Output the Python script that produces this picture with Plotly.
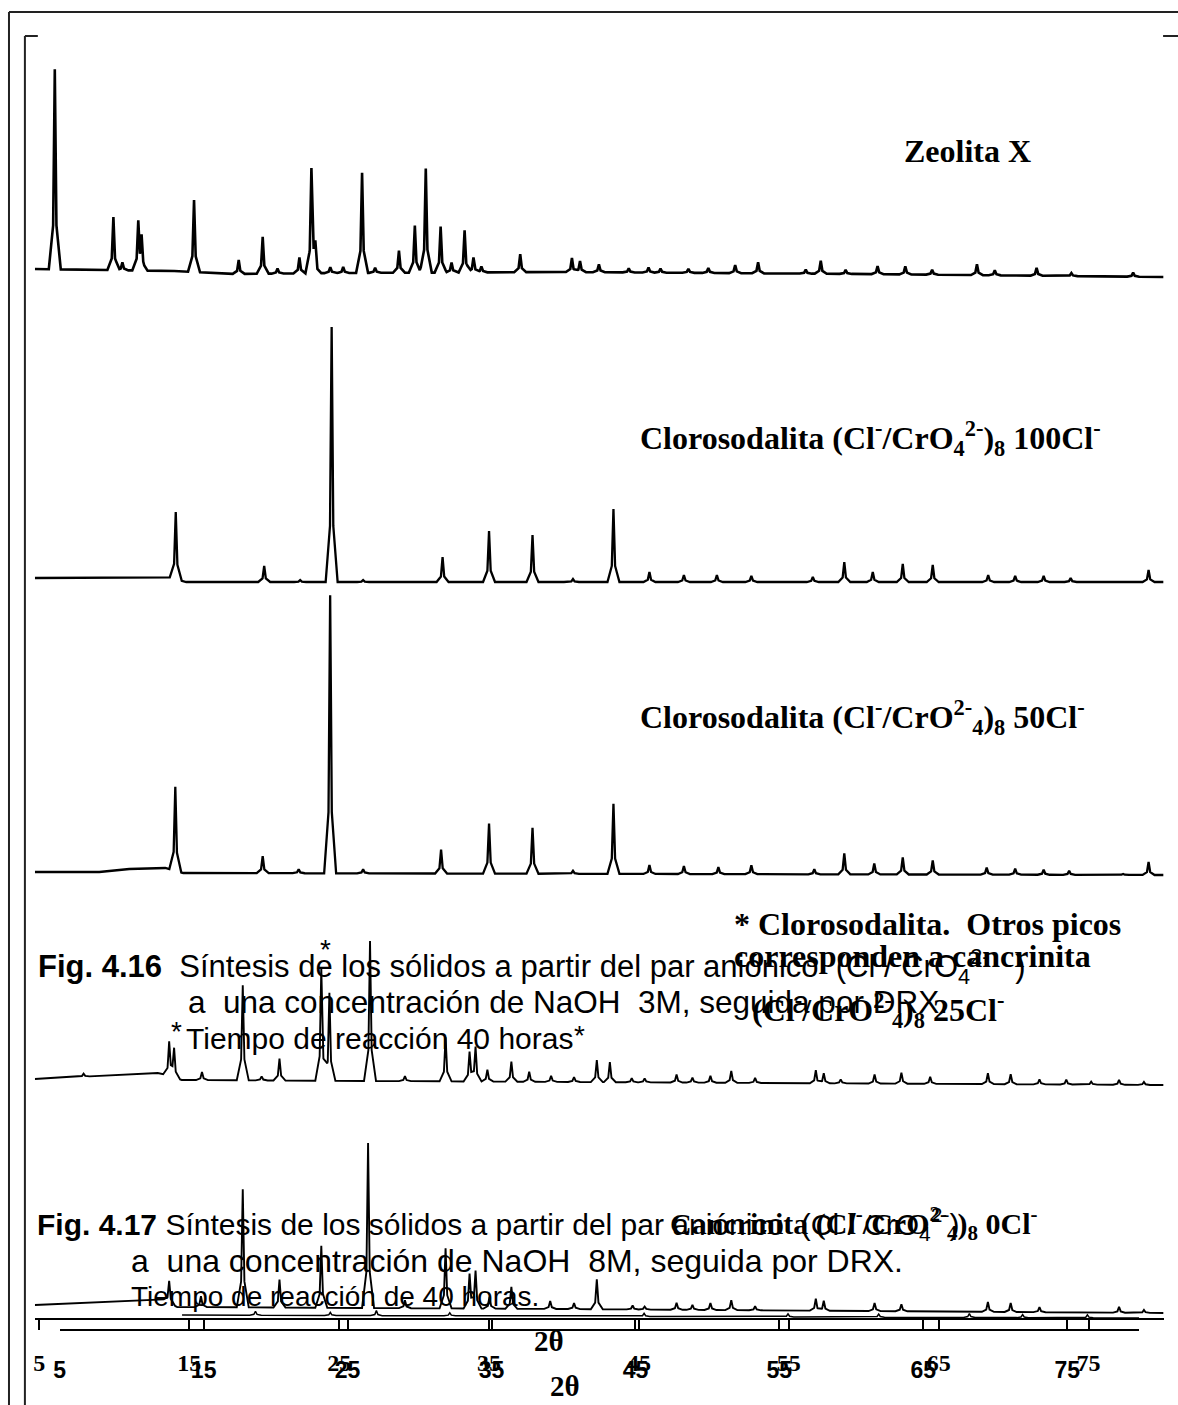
import numpy as np
import plotly.graph_objects as go

W, H = 1178, 1405

# ---------------------------------------------------------------
# Diffraction patterns (2θ in degrees, intensity in arbitrary units,
# each pattern already carries its stacking offset in the background)
# ---------------------------------------------------------------

# Zeolita X
zx_pos = [6.03, 9.94, 10.54, 11.60, 11.82, 15.32, 18.30, 19.90, 20.89, 22.35, 23.15, 23.41,
          24.41, 25.27, 26.53, 27.40, 28.99, 30.05, 30.78, 31.77, 32.50, 33.37, 33.96, 34.49,
          37.08, 40.53, 41.07, 42.33, 44.32, 45.64, 46.44, 48.30, 49.63, 51.42, 52.95, 56.13,
          57.13, 58.79, 60.92, 62.77, 64.56, 67.55, 68.74, 71.53, 73.85, 77.97]
zx_int = [200, 53, 8, 46, 30, 72, 14, 37, 5, 16, 103, 22,
          6, 6, 100, 5, 22, 47, 104, 46, 10, 42, 15, 6,
          18, 14, 11, 8, 4, 5, 4, 4, 5, 8, 11, 4,
          13, 4, 8, 8, 5, 11, 5, 8, 3, 4]
zx_bg_pos = [4.7, 14, 18, 25, 40, 60, 80]
zx_bg = [1136, 1134, 1131, 1132, 1133, 1131, 1128]

# Clorosodalita 100Cl-
s100_pos = [14.10, 20.00, 22.40, 24.50, 26.60, 31.90, 35.00, 37.90, 40.60, 43.30, 45.70,
            48.00, 50.20, 52.50, 56.60, 58.70, 60.60, 62.60, 64.60, 68.30, 70.10, 72.00,
            73.80, 79.00]
s100_int = [67, 16, 2, 255, 2, 25, 51, 47, 3, 73, 10,
            7, 7, 6, 5, 20, 10, 18, 17, 7, 6, 6,
            4, 12]
s100_bg_pos = [4.7, 13.6, 14.8, 40, 80]
s100_bg = [827, 828, 823, 823, 823]

# Clorosodalita 50Cl-
s50_pos = [14.07, 19.90, 22.30, 24.40, 26.60, 31.80, 35.00, 37.90, 40.60, 43.30, 45.70,
           48.00, 50.30, 52.50, 56.70, 58.70, 60.70, 62.60, 64.60, 68.20, 70.10, 72.00,
           73.70, 77.30, 79.00]
s50_int = [84, 17, 4, 278, 4, 24, 50, 46, 3, 70, 9,
           8, 7, 9, 5, 21, 11, 17, 14, 7, 6, 5,
           4, 1, 13]
s50_bg_pos = [4.7, 9, 11, 13.4, 14.6, 80]
s50_bg = [533, 533, 536, 537, 532, 530]

# Clorosodalita 25Cl- (con cancrinita), NaOH 3M
s25_pos = [7.95, 13.66, 13.99, 15.85, 18.57, 19.83, 21.02, 23.81, 24.35, 27.06, 29.39,
           32.10, 33.70, 34.10, 34.89, 36.49, 37.68, 39.14, 40.67, 42.19, 43.06, 44.52,
           45.38, 47.51, 48.57, 49.77, 51.16, 52.75, 56.80, 57.33, 58.46, 60.72, 62.51,
           64.43, 68.28, 69.80, 71.72, 73.51, 75.17, 77.03, 78.69]
s25_int = [3, 33, 28, 8, 95, 4, 22, 112, 88, 140, 5,
           44, 30, 35, 12, 20, 10, 6, 5, 22, 20, 4,
           4, 8, 5, 7, 12, 5, 13, 10, 4, 9, 11,
           7, 11, 10, 5, 5, 3, 5, 3]
s25_bg_pos = [4.7, 12.9, 13.5, 14.5, 80]
s25_bg = [326, 332, 330, 325, 320]

# Cancrinita 0Cl-, NaOH 8M
c0_pos = [13.66, 15.78, 18.57, 21.02, 23.81, 26.93, 29.39, 32.10, 33.70, 34.10, 35.03,
          36.49, 39.08, 40.67, 42.19, 44.58, 45.38, 47.51, 48.57, 49.77, 51.16, 52.75,
          56.80, 57.33, 60.72, 62.51, 68.28, 69.80, 71.72, 77.03, 78.69]
c0_int = [22, 11, 118, 28, 62, 165, 8, 60, 35, 38, 12,
          22, 8, 6, 30, 4, 3, 7, 5, 7, 10, 4,
          12, 10, 8, 7, 10, 9, 5, 6, 3]
c0_bg_pos = [4.7, 13.3, 14.2, 40, 80]
c0_bg = [100, 105, 98, 96, 92]

# Cancrinita, registro superpuesto (escala 2θ inferior)
c0b_pos = [18.6, 23.8, 27.0, 32.1, 45.6, 55.6, 61.9, 68.2, 71.9, 76.4]
c0b_int = [4, 3, 5, 3, 3, 3, 3, 4, 3, 3]
c0b_bg_pos = [13.5, 80]
c0b_bg = [90, 87]

two_theta_ticks = [5, 15, 25, 35, 45, 55, 65, 75]
tick_text = [str(t) for t in two_theta_ticks]


def pattern(pos, inten, bg_pos, bg_val, lo=4.7, hi=80.0, foot=0.4, waist=0.11):
    """Piecewise-linear diffraction trace: each listed reflection is drawn as a
    narrow spike (foot / waist / apex vertices) standing on the background."""
    xs = {lo, hi}
    xs.update(bg_pos)
    for c in pos:
        xs.update([c - foot, c - waist, c, c + waist, c + foot])
    xs = np.array(sorted(x for x in xs if lo <= x <= hi))
    ys = np.interp(xs, bg_pos, bg_val)
    for c, h in zip(pos, inten):
        ys = ys + np.interp(xs, [c - foot, c - waist, c, c + waist, c + foot],
                            [0, 0.22 * h, h, 0.22 * h, 0], left=0, right=0)
    return xs, ys


fig = go.Figure()

series = [
    (zx_pos, zx_int, zx_bg_pos, zx_bg, 2.6, "x", 4.7),
    (s100_pos, s100_int, s100_bg_pos, s100_bg, 2.3, "x", 4.7),
    (s50_pos, s50_int, s50_bg_pos, s50_bg, 2.3, "x", 4.7),
    (s25_pos, s25_int, s25_bg_pos, s25_bg, 1.9, "x", 4.7),
    (c0_pos, c0_int, c0_bg_pos, c0_bg, 1.9, "x", 4.7),
    (c0b_pos, c0b_int, c0b_bg_pos, c0b_bg, 1.5, "x2", 13.5),
]
for pos, inten, bp, bv, lw, xa, lo in series:
    xs, ys = pattern(pos, inten, bp, bv, lo=lo)
    fig.add_trace(go.Scatter(x=xs, y=ys, mode="lines", xaxis=xa, yaxis="y",
                             line=dict(color="black", width=lw), hoverinfo="skip",
                             showlegend=False))


def px(x, y):
    return x / W, 1 - y / H


SERIF = "Liberation Serif"
SANS = "Liberation Sans"
NB = "\u00a0"

annotations = []


def label(x, y, text, family, size, anchor="left"):
    ax, ay = px(x, y)
    annotations.append(dict(x=ax, y=ay, xref="paper", yref="paper", text=text,
                            showarrow=False, xanchor=anchor, yanchor="middle",
                            font=dict(family=family, size=size, color="black")))


# sample labels
label(901, 151, "<b>Zeolita X</b>", SERIF, 32)
label(635, 438, "<b>Clorosodalita (Cl<sup>-</sup>/CrO<sub>4</sub><sup>2-</sup>)<sub>8</sub> 100Cl<sup>-</sup></b>", SERIF, 32)
label(635, 717, "<b>Clorosodalita (Cl<sup>-</sup>/CrO<sup>2-</sup><sub>4</sub>)<sub>8</sub> 50Cl<sup>-</sup></b>", SERIF, 32)
label(730, 924, "<b>* Clorosodalita." + NB * 2 + "Otros picos</b>", SERIF, 32)
label(730, 956, "<b>corresponden a cancrinita</b>", SERIF, 32)
label(748, 1010, "<b>(Cl<sup>-</sup>/CrO<sup>2-</sup><sub>4</sub>)<sub>8</sub> 25Cl<sup>-</sup></b>", SERIF, 32)
label(665, 1223, "<b>Cancrinita (Cl<sup>-</sup>/CrO<sup>2-</sup><sub>4</sub>)<sub>8</sub> 0Cl<sup>-</sup></b>", SERIF, 30)

# figure captions
label(30, 966, "<b>Fig. 4.16</b>" + NB * 2 + "Síntesis de los sólidos a partir del par aniónico" + NB * 2 +
      "(Cl" + NB + "/" + NB + "CrO<sub>4</sub><sup>2-</sup>" + NB * 3 + ")", SANS, 31)
label(181, 1002, "a" + NB * 2 + "una concentración de NaOH" + NB * 2 + "3M, seguida por DRX.", SANS, 31.5)
label(179, 1038, "Tiempo de reacción 40 horas", SANS, 30)
label(29, 1224, "<b>Fig. 4.17</b> Síntesis de los sólidos a partir del par aniónico" + NB * 2 +
      "(Cl" + NB + "/" + NB + "CrO<sub>4</sub><sup>2-</sup>)", SANS, 30)
label(124, 1261, "a" + NB * 2 + "una concentración de NaOH" + NB * 2 + "8M, seguida por DRX.", SANS, 32)
label(124, 1296, "Tiempo de reacción de 40 horas.", SANS, 28)

# sodalite markers
label(171, 1031, "*", SANS, 28, "center")
label(321, 949, "*", SANS, 28, "center")
label(576, 1035, "*", SANS, 28, "center")

# axis titles
label(546, 1341, "<b>2θ</b>", SERIF, 29, "center")
label(562, 1386, "<b>2θ</b>", SERIF, 29, "center")

# frame lines
shapes = []


def seg(x0, y0, x1, y1, w=2, c="#222"):
    a0, b0 = px(x0, y0)
    a1, b1 = px(x1, y1)
    shapes.append(dict(type="line", xref="paper", yref="paper", x0=a0, y0=b0, x1=a1, y1=b1,
                       line=dict(color=c, width=w)))


seg(3, 12, 3, H + 5)
seg(3, 12, W + 5, 12)
seg(19, 36, 19, H + 5)
seg(19, 36, 32, 36)
seg(1163, 36, W + 5, 36)

axis_common = dict(anchor="free", showline=True, linecolor="black",
                   linewidth=1.5, tickcolor="black", tickwidth=1.5, ticklen=10,
                   tickvals=two_theta_ticks, ticktext=tick_text, showgrid=False,
                   zeroline=False, fixedrange=True)

# upper 2θ scale: 5° at x=33.5 px, 15.07 px per degree
fig.update_layout(
    width=W, height=H,
    margin=dict(l=0, r=0, t=0, b=0),
    paper_bgcolor="white", plot_bgcolor="rgba(0,0,0,0)",
    showlegend=False,
    xaxis=dict(domain=[29 / W, 1163.5 / W], range=[4.7, 80], position=1 - 1319 / H,
               ticks="outside",
               tickfont=dict(family=SERIF, size=24, color="black", weight="bold"),
               ticklabelstandoff=12, **axis_common),
    xaxis2=dict(domain=[54 / W, 1139 / W], range=[5, 80], position=1 - 1330 / H,
                ticks="inside",
                tickfont=dict(family=SANS, size=23, color="black", weight="bold"),
                ticklabelstandoff=20, **axis_common),
    yaxis=dict(domain=[0, 1], range=[0, H], visible=False, fixedrange=True),
    annotations=annotations,
    shapes=shapes,
)

fig.write_html("out.html")
